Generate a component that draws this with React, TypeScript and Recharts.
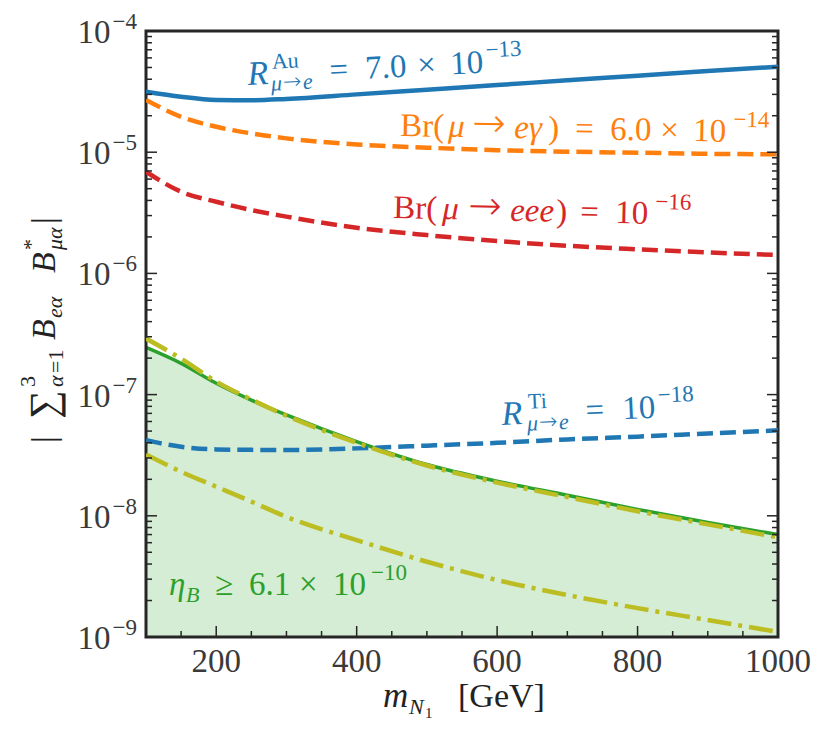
import React from "react";
import { ComposedChart, Line, Area, XAxis, YAxis, ReferenceArea } from "recharts";

// values
const massGeV = [100, 150, 200, 250, 300, 400, 500, 600, 700, 800, 900, 1000];
const rAuBound = [3.16e-5, 2.87e-5, 2.7e-5, 2.68e-5, 2.75e-5, 3.0e-5, 3.28e-5, 3.58e-5, 3.92e-5, 4.28e-5, 4.68e-5, 5.08e-5];
const brMuEGamma = [2.7e-5, 1.96e-5, 1.62e-5, 1.43e-5, 1.3e-5, 1.16e-5, 1.09e-5, 1.04e-5, 1.01e-5, 9.9e-6, 9.7e-6, 9.6e-6];
const brMuEEE = [6.9e-6, 4.72e-6, 3.9e-6, 3.33e-6, 2.94e-6, 2.38e-6, 2.07e-6, 1.85e-6, 1.69e-6, 1.58e-6, 1.49e-6, 1.42e-6];
const etaBBound = [2.45e-7, 1.81e-7, 1.24e-7, 9.0e-8, 6.8e-8, 4.1e-8, 2.65e-8, 1.93e-8, 1.48e-8, 1.13e-8, 8.8e-9, 7.0e-9];
const etaBUpper = [2.9e-7, 1.98e-7, 1.28e-7, 9.1e-8, 6.7e-8, 4.0e-8, 2.6e-8, 1.88e-8, 1.43e-8, 1.09e-8, 8.5e-9, 6.65e-9];
const rTiBound = [4.2e-8, 3.71e-8, 3.53e-8, 3.5e-8, 3.49e-8, 3.6e-8, 3.79e-8, 4.0e-8, 4.27e-8, 4.5e-8, 4.78e-8, 5.07e-8];
const etaBLower = [3.2e-8, 2.31e-8, 1.74e-8, 1.31e-8, 9.8e-9, 6.3e-9, 4.18e-9, 2.95e-9, 2.22e-9, 1.73e-9, 1.38e-9, 1.1e-9];

const xMajorTicks = [200, 400, 600, 800, 1000];
const xMinorTicks = [100, 150, 250, 300, 350, 450, 500, 550, 650, 700, 750, 850, 900, 950];
const yDecades = [-9, -8, -7, -6, -5, -4];
const yTickLabels = ["−9", "−8", "−7", "−6", "−5", "−4"];

const data = massGeV.map((m, i) => ({
  m,
  rAu: rAuBound[i],
  meg: brMuEGamma[i],
  meee: brMuEEE[i],
  eta: etaBBound[i],
  etaUp: etaBUpper[i],
  rTi: rTiBound[i],
  etaLo: etaBLower[i],
}));

const xTicks = [...xMinorTicks, ...xMajorTicks].sort((a, b) => a - b);
const yTicks: number[] = [];
yDecades.forEach((d) => {
  yTicks.push(Math.pow(10, d));
  if (d < -4) for (let k = 2; k <= 9; k++) yTicks.push(k * Math.pow(10, d));
});

const FONT = '"Liberation Serif", "DejaVu Serif", serif';
const ARROW_FONT = '"DejaVu Sans", sans-serif';
const serif = { fontFamily: FONT };
const INK = "#262626";
const LABEL = "#3a3a3a";

const isMajorY = (v: number) => {
  const l = Math.log10(v);
  return Math.abs(l - Math.round(l)) < 1e-6;
};

function LeftTick(props: any) {
  const { x, y, payload } = props;
  const v = payload.value;
  const major = isMajorY(v);
  const idx = yDecades.indexOf(Math.round(Math.log10(v)));
  return (
    <g>
      <line x1={x} x2={x + (major ? 11 : 6)} y1={y} y2={y} stroke={INK} strokeWidth={1.5} />
      {major && (
        <text x={x - 9} y={y + 12} textAnchor="end" style={serif} fontSize={33} fill={LABEL}>
          <tspan>10</tspan>
          <tspan dx={2} dy={-14} fontSize={23}>{yTickLabels[idx]}</tspan>
        </text>
      )}
    </g>
  );
}

function RightTick(props: any) {
  const { x, y, payload } = props;
  const major = isMajorY(payload.value);
  return <line x1={x - (major ? 11 : 6)} x2={x} y1={y} y2={y} stroke={INK} strokeWidth={1.5} />;
}

function BottomTick(props: any) {
  const { x, y, payload } = props;
  const major = xMajorTicks.includes(payload.value);
  return (
    <g>
      <line x1={x} x2={x} y1={y} y2={y - (major ? 11 : 6)} stroke={INK} strokeWidth={1.5} />
      {major && (
        <text x={x} y={y + 35} textAnchor="middle" style={serif} fontSize={33} fill={LABEL}>
          {payload.value}
        </text>
      )}
    </g>
  );
}

function TopTick(props: any) {
  const { x, y, payload } = props;
  const major = xMajorTicks.includes(payload.value);
  return <line x1={x} x2={x} y1={y} y2={y + (major ? 11 : 6)} stroke={INK} strokeWidth={1.5} />;
}

// [text, x, y, fontSize, italic]
type Piece = [string, number, number, number, boolean?];

function MathText({ at, rot = 0, fill, pieces }: { at: [number, number]; rot?: number; fill: string; pieces: Piece[] }) {
  return (
    <g transform={`translate(${at[0]},${at[1]}) rotate(${rot})`} fill={fill}>
      {pieces.map(([t, x, y, s, i], k) => (
        <text
          key={k}
          x={x}
          y={y}
          fontSize={s}
          fontStyle={i ? "italic" : "normal"}
          style={t === "→" ? { fontFamily: ARROW_FONT, fontWeight: 300 } : undefined}
        >
          {t}
        </text>
      ))}
    </g>
  );
}

function Annotations() {
  return (
    <svg
      width={829}
      height={740}
      style={{ position: "absolute", left: 0, top: 0, pointerEvents: "none", fontFamily: FONT }}
    >
      <MathText
        at={[248, 85]}
        rot={-3}
        fill="#1f77b4"
        pieces={[
          ["R", 0, 0, 34, true],
          ["Au", 25, -15, 22],
          ["μ", 23, 7, 22, true],
          ["→", 35, 6, 22],
          ["e", 55, 7, 22, true],
          ["=", 82, 0, 33],
          ["7.0", 118, 0, 33],
          ["×", 170, 0, 33],
          ["10", 203, 0, 33],
          ["−13", 239, -15, 23],
        ]}
      />
      <MathText
        at={[400, 136]}
        rot={1}
        fill="#ff7f0e"
        pieces={[
          ["Br(", 0, 0, 33],
          ["μ", 48, 0, 33, true],
          ["→", 72, -1, 40],
          ["eγ", 114, 0, 33, true],
          [")", 148, 0, 33],
          ["=", 175, 0, 33],
          ["6.0", 210, 0, 33],
          ["×", 260, 0, 33],
          ["10", 293, 0, 33],
          ["−14", 333, -15, 23],
        ]}
      />
      <MathText
        at={[393, 218]}
        rot={1.3}
        fill="#d62728"
        pieces={[
          ["Br(", 0, 0, 33],
          ["μ", 49, 0, 33, true],
          ["→", 75, -1, 40],
          ["eee", 117, 0, 33, true],
          [")", 163, 0, 33],
          ["=", 187, 0, 33],
          ["10", 222, 0, 33],
          ["−16", 262, -15, 23],
        ]}
      />
      <MathText
        at={[502, 425]}
        rot={-2.7}
        fill="#1f77b4"
        pieces={[
          ["R", 0, 0, 34, true],
          ["Ti", 27, -15, 22],
          ["μ", 25, 7, 22, true],
          ["→", 37, 6, 22],
          ["e", 57, 7, 22, true],
          ["=", 84, 0, 33],
          ["10", 121, 0, 33],
          ["−18", 157, -15, 23],
        ]}
      />
      <MathText
        at={[169, 595]}
        fill="#2ca02c"
        pieces={[
          ["η", 0, 0, 33, true],
          ["B", 17, 7, 22, true],
          ["≥", 46, 0, 33],
          ["6.1", 80, 0, 33],
          ["×", 130, 0, 33],
          ["10", 164, 0, 33],
          ["−10", 202, -15, 23],
        ]}
      />
      {/* x axis title */}
      <MathText
        at={[383, 707]}
        fill="#222"
        pieces={[
          ["m", 0, 0, 35, true],
          ["N", 26, 7, 22, true],
          ["1", 42, 11, 15],
          ["[GeV]", 75, 0, 34],
        ]}
      />
      {/* y axis title */}
      <MathText
        at={[55, 443]}
        rot={-90}
        fill="#222"
        pieces={[
          ["|", 0, 0, 34],
          ["∑", 24, 2, 40],
          ["3", 56, -20, 22],
          ["α", 56, 8, 22, true],
          ["=1", 70, 8, 22],
          ["B", 103, 0, 34, true],
          ["eα", 125, 7, 22, true],
          ["B", 170, 0, 34, true],
          ["*", 193, -17, 22],
          ["μα", 193, 7, 22, true],
          ["|", 219, 0, 34],
        ]}
      />
    </svg>
  );
}

export default function App() {
  return (
    <div style={{ position: "absolute", left: 0, top: 0, width: 829, height: 740, background: "#fff" }}>
      <ComposedChart width={829} height={740} data={data} margin={{ top: 0, right: 0, bottom: 0, left: 0 }}>
        <XAxis
          dataKey="m"
          type="number"
          domain={[100, 1000]}
          allowDataOverflow
          ticks={xTicks}
          interval={0}
          height={103}
          axisLine={false}
          tickLine={false}
          tickSize={0}
          tickMargin={0}
          tick={<BottomTick />}
        />
        <XAxis
          xAxisId="top"
          orientation="top"
          type="number"
          domain={[100, 1000]}
          allowDataOverflow
          ticks={xTicks}
          interval={0}
          height={31}
          axisLine={false}
          tickLine={false}
          tickSize={0}
          tickMargin={0}
          tick={<TopTick />}
        />
        <YAxis
          type="number"
          scale="log"
          domain={[1e-9, 1e-4]}
          allowDataOverflow
          ticks={yTicks}
          interval={0}
          width={146}
          axisLine={false}
          tickLine={false}
          tickSize={0}
          tickMargin={0}
          tick={<LeftTick />}
        />
        <YAxis
          yAxisId="right"
          orientation="right"
          type="number"
          scale="log"
          domain={[1e-9, 1e-4]}
          allowDataOverflow
          ticks={yTicks}
          interval={0}
          width={51}
          axisLine={false}
          tickLine={false}
          tickSize={0}
          tickMargin={0}
          tick={<RightTick />}
        />
        <Area
          dataKey="eta"
          type="monotone"
          baseValue={1e-9}
          stroke="#2ca02c"
          strokeWidth={3.5}
          fill="#2ca02c"
          fillOpacity={0.2}
          isAnimationActive={false}
          dot={false}
        />
        <Line dataKey="rAu" type="monotone" stroke="#1f77b4" strokeWidth={4.5} dot={false} isAnimationActive={false} />
        <Line dataKey="meg" type="monotone" stroke="#ff7f0e" strokeWidth={4.5} strokeDasharray="16 7" dot={false} isAnimationActive={false} />
        <Line dataKey="meee" type="monotone" stroke="#d62728" strokeWidth={4.5} strokeDasharray="16 7" dot={false} isAnimationActive={false} />
        <Line dataKey="rTi" type="monotone" stroke="#1f77b4" strokeWidth={4.5} strokeDasharray="16 7" dot={false} isAnimationActive={false} />
        <Line dataKey="etaUp" type="monotone" stroke="#bcbd22" strokeWidth={4.5} strokeDasharray="24 7 4 7" dot={false} isAnimationActive={false} />
        <Line dataKey="etaLo" type="monotone" stroke="#bcbd22" strokeWidth={4.5} strokeDasharray="24 7 4 7" dot={false} isAnimationActive={false} />
        <ReferenceArea x1={100} x2={1000} y1={1e-9} y2={1e-4} fill="none" stroke={INK} strokeWidth={3} ifOverflow="visible" />
      </ComposedChart>
      <Annotations />
    </div>
  );
}
